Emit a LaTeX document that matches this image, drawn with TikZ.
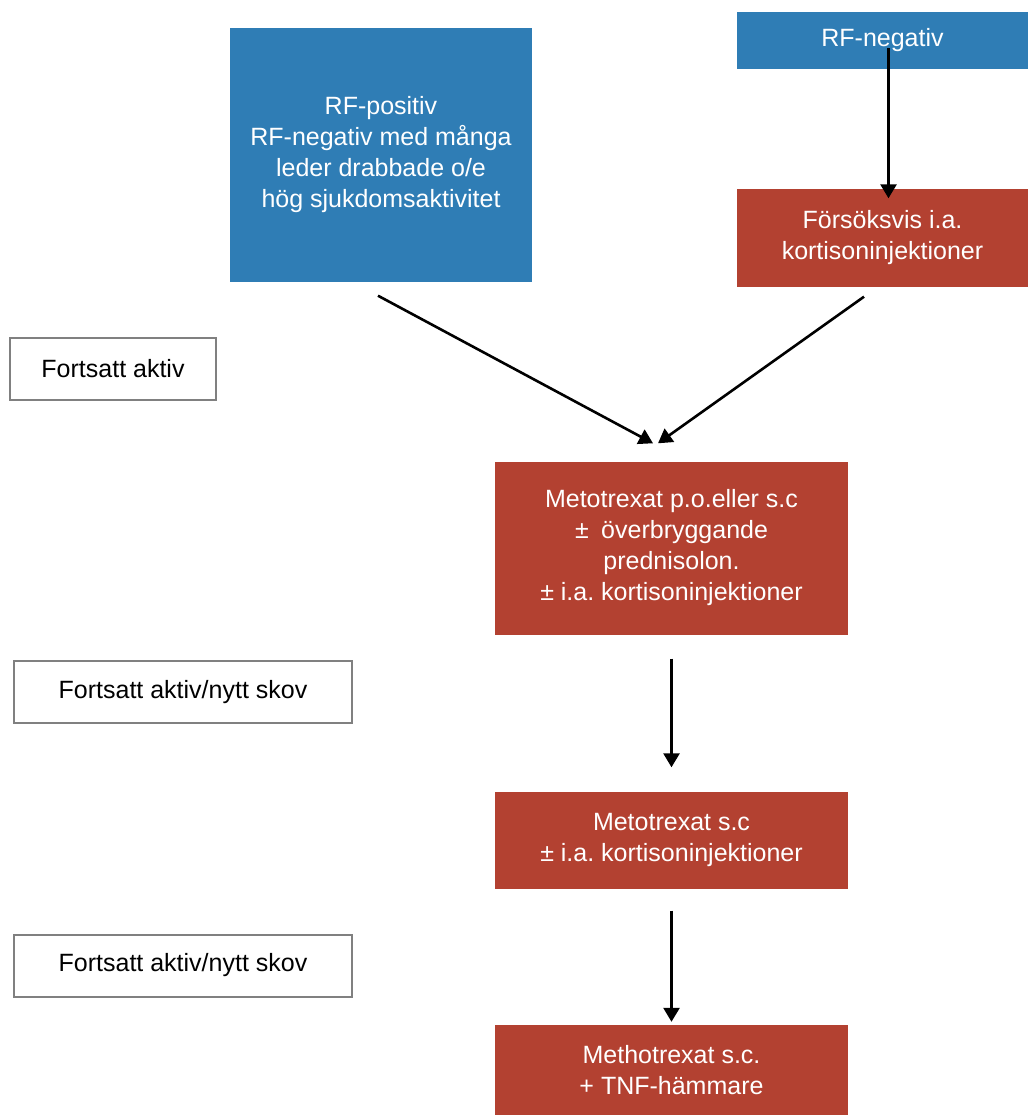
\documentclass[tikz,border=0pt]{standalone}
\usepackage{fontspec}
\setmainfont{Liberation Sans}
\usepackage{tikz}
\usetikzlibrary{positioning,arrows.meta}
\definecolor{rfblue}{RGB}{47,125,181}
\definecolor{mtxred}{RGB}{179,65,49}
\definecolor{notegray}{RGB}{128,128,128}
\frenchspacing

\begin{document}
\begin{tikzpicture}[
  x=1pt, y=-1pt,
  >={Triangle[width=16pt,length=14pt]},
  every node/.style={font=\fontsize{25}{31}\selectfont, align=center, inner sep=0pt},
  bluebox/.style={fill=rfblue, text=white},
  redbox/.style={fill=mtxred, text=white, minimum width=353pt},
  note/.style={draw=notegray, line width=2pt, fill=white, text=black, minimum height=62pt},
  arr/.style={->, line width=2.6pt}
]
\useasboundingbox (0,0) rectangle (1028,1115);

% --- Top: RF groups ---
\node[bluebox, minimum width=302pt, minimum height=253pt] (RFpos) at (381,155)
  {RF-positiv\\RF-negativ med många\\leder drabbade o/e\\hög sjukdomsaktivitet};
\node[bluebox, minimum width=291pt, minimum height=57pt] (RFneg) at (882.5,40.5) {RF-negativ};
\node[redbox, minimum width=291pt, minimum height=97pt] (forsok) at (882.5,238)
  {Försöksvis i.a.\\kortisoninjektioner};

% --- Treatment steps ---
\node[redbox, minimum height=173pt] (mtxpo) at (671.5,548)
  {Metotrexat p.o.eller s.c\\±\enspace överbryggande\\prednisolon.\\± i.a. kortisoninjektioner};
\node[redbox, minimum height=97pt] (mtxsc) at (671.5,840)
  {Metotrexat s.c\\± i.a. kortisoninjektioner};
\node[redbox, minimum height=90pt] (mtxtnf) at (671.5,1070)
  {Methotrexat s.c.\\+ TNF-hämmare};

% --- Left notes ---
\node[note, minimum width=206pt] (akt1) at (113,368.5) {Fortsatt aktiv};
\node[note, minimum width=338pt] (akt2) at (183,692) {Fortsatt aktiv/nytt skov};
\node[note, minimum width=338pt] (akt3) at (183,965.5) {Fortsatt aktiv/nytt skov};

% --- Arrows ---
\draw[arr] ([xshift=6pt,yshift=-8pt]RFneg.center) -- ([xshift=6pt,yshift=-9pt]forsok.north);
\draw[arr] ([xshift=-3pt,yshift=-14pt]RFpos.south) -- ([xshift=-18.5pt,yshift=18pt]mtxpo.north);
\draw[arr] ([xshift=-18.5pt,yshift=-10pt]forsok.south) -- ([xshift=-13.5pt,yshift=18pt]mtxpo.north);
\draw[arr] ([yshift=-24pt]mtxpo.south) -- ([yshift=24pt]mtxsc.north);
\draw[arr] ([yshift=-22pt]mtxsc.south) -- ([yshift=3pt]mtxtnf.north);

\end{tikzpicture}
\end{document}
